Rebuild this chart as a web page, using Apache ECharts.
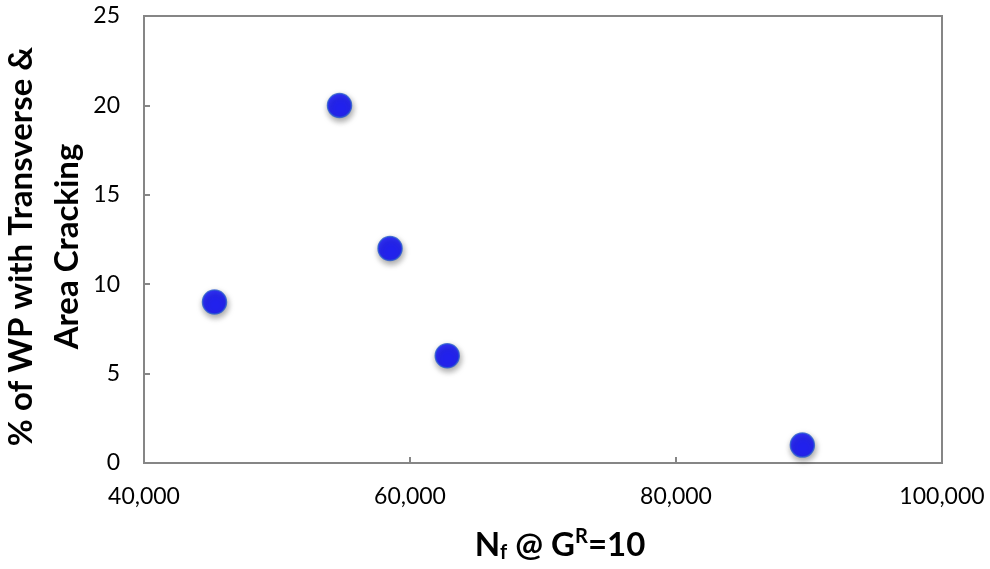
<!DOCTYPE html>
<html><head><meta charset="utf-8">
<script src="https://cdn.jsdelivr.net/npm/echarts@6/dist/echarts.min.js"></script>
<style>html,body{margin:0;padding:0;background:#fff}#c{width:990px;height:569px}</style>
</head><body><div id="c"></div>
<script>
const nfValues = [45300, 54700, 58500, 62800, 89500];
const crackPct = [9, 20, 12, 6, 1];
const xTicks = [40000, 60000, 80000, 100000];
const yTicks = [0, 5, 10, 15, 20, 25];

const points = nfValues.map((x, i) => [x, crackPct[i]]);
const font = 'Lato, "Open Sans", sans-serif';
const chart = echarts.init(document.getElementById('c'));
chart.setOption({
  animation: false,
  grid: {left: 144, right: 48, top: 16, bottom: 106, containLabel: false, outerBoundsMode: 'none',
    show: true, borderColor: '#868686', borderWidth: 2, backgroundColor: 'transparent'},
  xAxis: {
    type: 'value', min: xTicks[0], max: xTicks[xTicks.length-1], interval: 20000,
    axisLine: {lineStyle: {color: '#868686', width: 2}},
    axisTick: {inside: true, length: 6, lineStyle: {color: '#868686', width: 2}},
    splitLine: {show: false},
    axisLabel: {color: '#000', fontFamily: font, fontSize: 23, margin: 22,
      formatter: v => v.toLocaleString('en-US')},
    name: '{b|N}{s|f}{b| @ G}{p|R}{b|=10}', nameLocation: 'middle', nameGap: 64,
    nameTextStyle: {rich: {
      b: {fontFamily: font, fontWeight: 'bold', fontSize: 33, color: '#000'},
      s: {fontFamily: font, fontWeight: 'bold', fontSize: 20, color: '#000', padding: [16, 0, 0, 0]},
      p: {fontFamily: font, fontWeight: 'bold', fontSize: 20, color: '#000', padding: [0, 0, 16, 0]}
    }, padding: [0, 0, 0, 34]}
  },
  yAxis: {
    type: 'value', min: yTicks[0], max: yTicks[yTicks.length-1], interval: 5,
    axisLine: {show: true, lineStyle: {color: '#868686', width: 2}},
    axisTick: {show: true, inside: true, length: 6, lineStyle: {color: '#868686', width: 2}},
    splitLine: {show: false},
    axisLabel: {color: '#000', fontFamily: font, fontSize: 23, margin: 24},
    name: '% of WP with Transverse &\nArea Cracking', nameLocation: 'middle', nameGap: 54,
    nameMoveOverlap: false,
    nameTextStyle: {fontFamily: font, fontWeight: 'bold', fontSize: 33, color: '#000', lineHeight: 46, align: 'center',
      width: 500, overflow: 'none', padding: [0, 14, 0, 0]}
  },
  series: [{
    type: 'scatter', data: points, symbolSize: 24,
    itemStyle: {color: '#0000ff', borderColor: '#2a5bd0', borderWidth: 1.5,
      shadowBlur: 6, shadowColor: 'rgba(0,0,0,0.45)', shadowOffsetX: 1, shadowOffsetY: 3}
  }]
});
</script></body></html>
